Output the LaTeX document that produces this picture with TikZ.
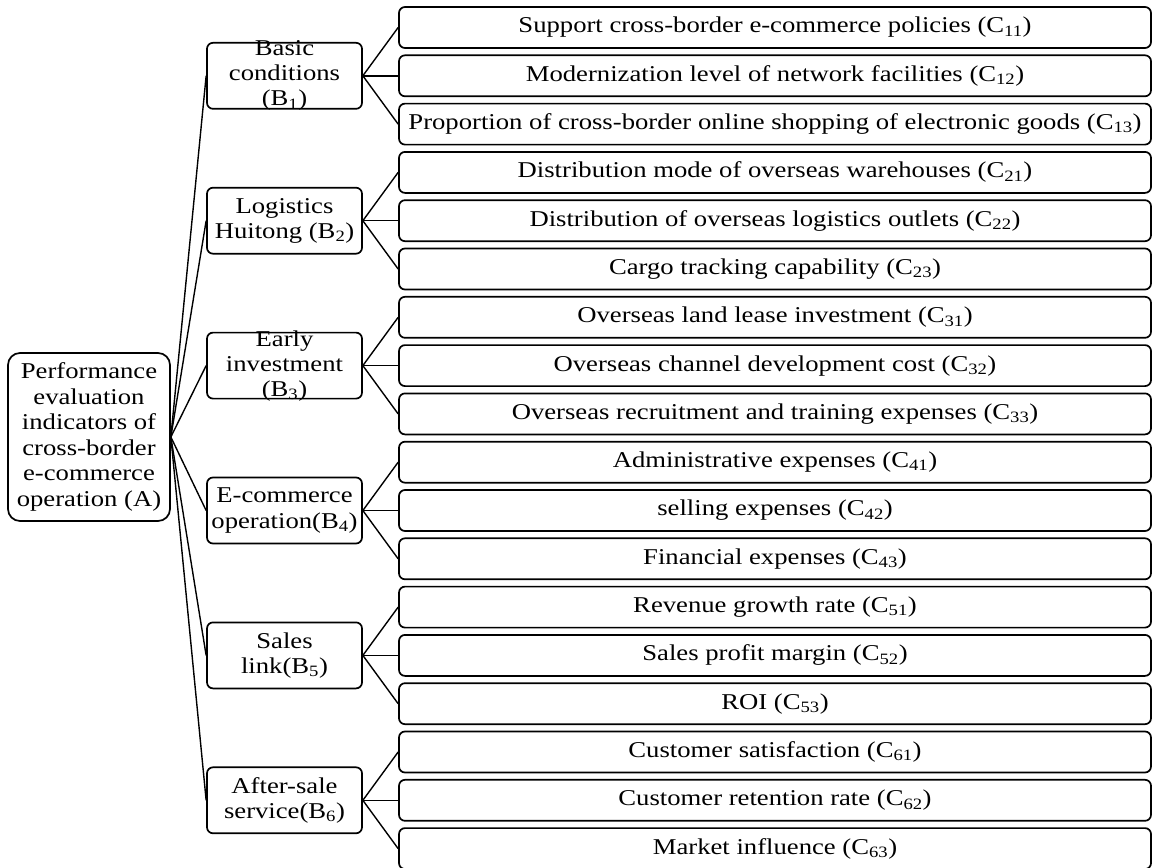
\documentclass[tikz,border=0pt]{standalone}
\usepackage{fontspec}
\setmainfont{Liberation Serif}[FakeStretch=1.18]
\begin{document}
\begin{tikzpicture}[x=1pt,y=-1pt,
  box/.style={draw, line width=1.7pt, rounded corners=6pt, inner sep=0pt},
  cbox/.style={box, minimum width=752pt, minimum height=41pt, font=\fontsize{22.6}{25}\selectfont},
  bbox/.style={box, minimum width=155pt, minimum height=66pt},
  abox/.style={box, rounded corners=12pt, minimum width=162pt, minimum height=168pt},
  txt/.style={align=center, inner sep=0pt, font=\fontsize{22.6}{25}\selectfont},
  link/.style={line width=1.4pt}]
\useasboundingbox (0,0) rectangle (1156,867);

% root
\node[abox] (a) at (89,437) {};
\node[txt, font=\fontsize{22.6}{25.5}\selectfont] (at) at (a) {Performance\\evaluation\\indicators of\\cross-border\\e-commerce\\operation (A)};

% B level
\node[bbox] (b1) at (284.5,75.8) {};
\node[txt] (b1t) at (b1) {Basic\\conditions\\(B\textsubscript{1})};
\node[bbox] (b2) at (284.5,220.7) {};
\node[txt] (b2t) at (b2) {Logistics\\Huitong (B\textsubscript{2})};
\node[bbox] (b3) at (284.5,365.6) {};
\node[txt] (b3t) at (b3) {Early\\investment\\(B\textsubscript{3})};
\node[bbox] (b4) at (284.5,510.5) {};
\node[txt] (b4t) at (b4) {E-commerce\\operation(B\textsubscript{4})};
\node[bbox] (b5) at (284.5,655.4) {};
\node[txt] (b5t) at (b5) {Sales\\link(B\textsubscript{5})};
\node[bbox] (b6) at (284.5,800.3) {};
\node[txt] (b6t) at (b6) {After-sale\\service(B\textsubscript{6})};

% C level
\node[cbox] (c11) at (775,27.5) {Support cross-border e-commerce policies (C\textsubscript{11})};
\node[cbox] (c12) at (775,75.8) {Modernization level of network facilities (C\textsubscript{12})};
\node[cbox] (c13) at (775,124.1) {Proportion of cross-border online shopping of electronic goods (C\textsubscript{13})};
\node[cbox] (c21) at (775,172.4) {Distribution mode of overseas warehouses (C\textsubscript{21})};
\node[cbox] (c22) at (775,220.7) {Distribution of overseas logistics outlets (C\textsubscript{22})};
\node[cbox] (c23) at (775,269.0) {Cargo tracking capability (C\textsubscript{23})};
\node[cbox] (c31) at (775,317.3) {Overseas land lease investment (C\textsubscript{31})};
\node[cbox] (c32) at (775,365.6) {Overseas channel development cost (C\textsubscript{32})};
\node[cbox] (c33) at (775,413.9) {Overseas recruitment and training expenses (C\textsubscript{33})};
\node[cbox] (c41) at (775,462.2) {Administrative expenses (C\textsubscript{41})};
\node[cbox] (c42) at (775,510.5) {selling expenses (C\textsubscript{42})};
\node[cbox] (c43) at (775,558.8) {Financial expenses (C\textsubscript{43})};
\node[cbox] (c51) at (775,607.1) {Revenue growth rate (C\textsubscript{51})};
\node[cbox] (c52) at (775,655.4) {Sales profit margin (C\textsubscript{52})};
\node[cbox] (c53) at (775,703.7) {ROI (C\textsubscript{53})};
\node[cbox] (c61) at (775,752.0) {Customer satisfaction (C\textsubscript{61})};
\node[cbox] (c62) at (775,800.3) {Customer retention rate (C\textsubscript{62})};
\node[cbox] (c63) at (775,848.6) {Market influence (C\textsubscript{63})};

% connectors A -> B
\foreach \i in {1,...,6} \draw[link] (a.east) -- (b\i.west);
% connectors B -> C
\foreach \i in {1,...,6} {
  \foreach \j in {1,2,3} \draw[link] (b\i.east) -- (c\i\j.west);
}
\end{tikzpicture}
\end{document}
